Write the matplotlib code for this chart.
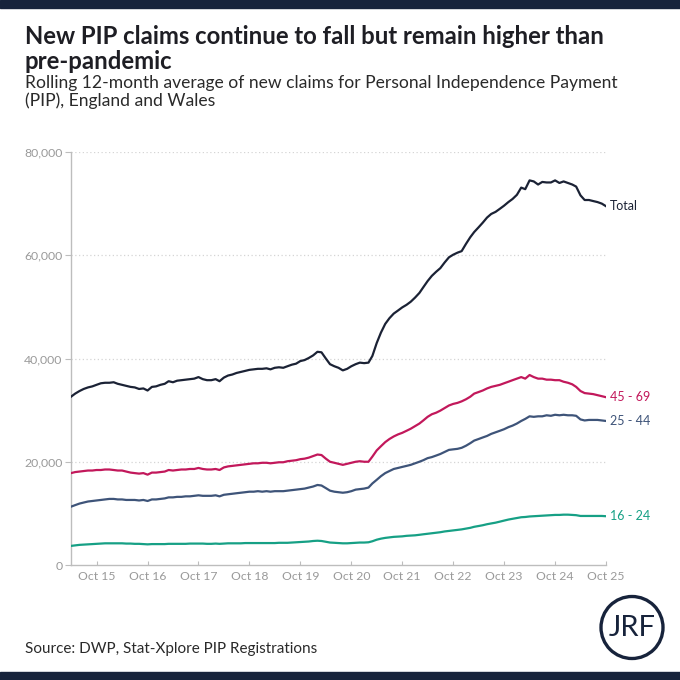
import matplotlib
matplotlib.use("Agg")
import matplotlib.pyplot as plt
from matplotlib.patches import Circle, Rectangle
import pandas as pd

# ---------------- data (monthly, Apr 2015 - Oct 2025) ----------------
months = pd.date_range("2015-04-01", "2025-10-01", freq="MS")

total = [
    32600, 33200, 33700, 34100, 34400, 34600, 34900, 35200, 35300, 35300, 35400, 35100,
    34900, 34700, 34500, 34400, 34100, 34200, 33800, 34500, 34600, 34900, 35100, 35600,
    35400, 35700, 35800, 35900, 36000, 36100, 36400, 36000, 35800, 35800, 36000, 35600,
    36300, 36700, 36900, 37200, 37400, 37600, 37800, 37900, 38000, 38000, 38100, 37900,
    38200, 38300, 38200, 38500, 38800, 39000, 39500, 39700, 40100, 40600, 41300, 41200,
    40000, 38900, 38500, 38200, 37700, 38000, 38500, 38900, 39200, 39100, 39200, 40500,
    43000, 45000, 46700, 47800, 48700, 49300, 49900, 50400, 51000, 51800, 52700, 53800,
    55000, 56000, 56800, 57500, 58600, 59600, 60100, 60500, 60800, 62200, 63500, 64500,
    65400, 66300, 67300, 68000, 68400, 69000, 69600, 70300, 70900, 71700, 73100, 72800,
    74500, 74300, 73700, 74200, 74100, 74100, 74500, 74000, 74300, 74000, 73700, 73300,
    71600, 70700, 70700, 70500, 70300, 70000, 69500,
]

age_45_69 = [
    17800, 18000, 18100, 18200, 18300, 18300, 18400, 18400, 18500, 18500, 18400, 18300,
    18300, 18100, 17900, 17800, 17700, 17800, 17500, 17900, 17900, 18000, 18100, 18400,
    18300, 18400, 18500, 18500, 18600, 18600, 18800, 18600, 18500, 18500, 18600, 18400,
    18900, 19100, 19200, 19300, 19400, 19500, 19600, 19700, 19700, 19800, 19800, 19700,
    19800, 19900, 19900, 20100, 20200, 20300, 20500, 20600, 20800, 21100, 21400, 21300,
    20600, 20000, 19800, 19600, 19400, 19600, 19800, 20000, 20100, 20000, 20000, 21000,
    22200, 23000, 23800, 24400, 24900, 25300, 25600, 26000, 26400, 26900, 27400, 28000,
    28700, 29200, 29500, 29900, 30400, 30900, 31200, 31400, 31700, 32100, 32600, 33200,
    33500, 33800, 34200, 34500, 34700, 34900, 35200, 35500, 35800, 36100, 36400, 36100,
    36800, 36400, 36100, 36100, 35900, 35900, 35800, 35800, 35500, 35300, 35000, 34500,
    33700, 33300, 33200, 33100, 32900, 32700, 32500,
]

age_25_44 = [
    11300, 11600, 11900, 12100, 12300, 12400, 12500, 12600, 12700, 12800, 12800, 12700,
    12700, 12600, 12600, 12600, 12500, 12600, 12400, 12700, 12700, 12800, 12900, 13100,
    13100, 13200, 13200, 13300, 13300, 13400, 13500, 13400, 13400, 13400, 13500, 13300,
    13600, 13700, 13800, 13900, 14000, 14100, 14200, 14200, 14300, 14200, 14300, 14200,
    14300, 14300, 14300, 14400, 14500, 14600, 14700, 14800, 15000, 15200, 15500, 15400,
    14900, 14400, 14200, 14100, 14000, 14100, 14300, 14600, 14700, 14800, 15000, 15800,
    16500, 17200, 17800, 18200, 18600, 18800, 19000, 19200, 19400, 19700, 20000, 20300,
    20700, 20900, 21200, 21500, 21900, 22300, 22400, 22500, 22700, 23100, 23600, 24100,
    24400, 24700, 25000, 25400, 25700, 26000, 26300, 26700, 27000, 27400, 27900, 28300,
    28800, 28700, 28800, 28800, 29000, 28900, 29100, 29000, 29100, 29000, 29000, 28900,
    28200, 28000, 28100, 28100, 28100, 28000, 27900,
]

age_16_24 = [
    3700, 3800, 3900, 3950, 4000, 4050, 4100, 4150, 4200, 4200, 4200, 4200,
    4200, 4150, 4150, 4100, 4100, 4050, 4000, 4050, 4050, 4050, 4050, 4100,
    4100, 4100, 4100, 4100, 4150, 4150, 4150, 4150, 4100, 4100, 4150, 4100,
    4150, 4200, 4200, 4200, 4200, 4250, 4250, 4250, 4250, 4250, 4250, 4250,
    4250, 4300, 4300, 4300, 4350, 4400, 4450, 4500, 4550, 4650, 4700, 4650,
    4500, 4350, 4300, 4250, 4200, 4200, 4250, 4300, 4350, 4350, 4400, 4600,
    4900, 5100, 5250, 5350, 5450, 5500, 5550, 5650, 5700, 5750, 5850, 5950,
    6050, 6150, 6250, 6350, 6500, 6600, 6700, 6800, 6900, 7050, 7200, 7400,
    7550, 7700, 7900, 8050, 8200, 8400, 8600, 8800, 8950, 9100, 9250, 9300,
    9400, 9450, 9500, 9550, 9600, 9650, 9700, 9700, 9750, 9750, 9700, 9650,
    9500, 9500, 9500, 9500, 9500, 9500, 9450,
]

series_labels = ["Total", "45 - 69", "25 - 44", "16 - 24"]
series_colors = ["#1b2235", "#c2185b", "#3e5479", "#16a085"]
y_ticks = [0, 20000, 40000, 60000, 80000]
x_tick_years = list(range(2015, 2026))

title = "New PIP claims continue to fall but remain higher than\npre-pandemic"
subtitle = ("Rolling 12-month average of new claims for Personal Independence Payment\n"
            "(PIP), England and Wales")
source = "Source: DWP, Stat-Xplore PIP Registrations"

# ---------------- figure ----------------
plt.rcParams["font.family"] = ["Lato", "DejaVu Sans"]
NAVY = "#17233b"

fig = plt.figure(figsize=(6.8, 6.8), dpi=100)
fig.patch.set_facecolor("white")

# top / bottom bands
fig.add_artist(Rectangle((0, 1 - 8 / 680), 1, 8 / 680, transform=fig.transFigure,
                         color=NAVY, zorder=0))
fig.add_artist(Rectangle((0, 0), 1, 8 / 680, transform=fig.transFigure,
                         color=NAVY, zorder=0))

fig.text(25 / 680, 1 - 25 / 680, title, ha="left", va="top", fontsize=17.2,
         fontweight="bold", color="#1e1e24", linespacing=1.1)
fig.text(25 / 680, 1 - 75 / 680, subtitle, ha="left", va="top", fontsize=12.6,
         color="#2a2a2a", linespacing=1.12)
fig.text(25 / 680, 1 - 649 / 680, source, ha="left", va="center", fontsize=11,
         color="#2a2a2a")

ax = fig.add_axes([71 / 680, 1 - 565 / 680, (606 - 71) / 680, (565 - 152) / 680])
series = [total, age_45_69, age_25_44, age_16_24]
for vals, lab, col in zip(series, series_labels, series_colors):
    ax.plot(months, vals, color=col, lw=1.6, solid_joinstyle="round", zorder=3)
    ax.annotate(lab, xy=(months[-1], vals[-1]), xytext=(3, 0),
                textcoords="offset points", va="center", ha="left",
                fontsize=9, color=col, annotation_clip=False)

ax.set_xlim(months[0], months[-1])
ax.set_ylim(0, 80000)
ax.set_yticks(y_ticks)
ax.set_yticklabels([f"{v:,}" for v in y_ticks])
xt = [pd.Timestamp(f"{y}-10-01") for y in x_tick_years]
ax.set_xticks(xt)
ax.set_xticklabels([f"Oct {str(y)[2:]}" for y in x_tick_years])

for v in y_ticks[1:]:
    ax.axhline(v, color="#d5d5d5", lw=0.9, ls=(0, (1, 2)), zorder=1)

for s in ["top", "right"]:
    ax.spines[s].set_visible(False)
for s in ["left", "bottom"]:
    ax.spines[s].set_color("#bdbdbd")
    ax.spines[s].set_linewidth(1)
ax.tick_params(axis="y", direction="out", length=4, color="#bdbdbd",
               labelcolor="#9a9a9a", labelsize=8.8, pad=2)
ax.tick_params(axis="x", direction="in", length=3, color="#bdbdbd",
               labelcolor="#9a9a9a", labelsize=8.8, pad=4)
ax.set_facecolor("none")

# JRF logo
cx, cy, r = 632 / 680, 1 - 627.5 / 680, 31 / 680
fig.add_artist(Circle((cx, cy), r, transform=fig.transFigure, fill=False,
                      ec=NAVY, lw=2.4))
fig.text(cx, cy, "JRF", ha="center", va="center", fontsize=21, color=NAVY,
         fontweight="normal")

fig.savefig("out.png", dpi=100)
